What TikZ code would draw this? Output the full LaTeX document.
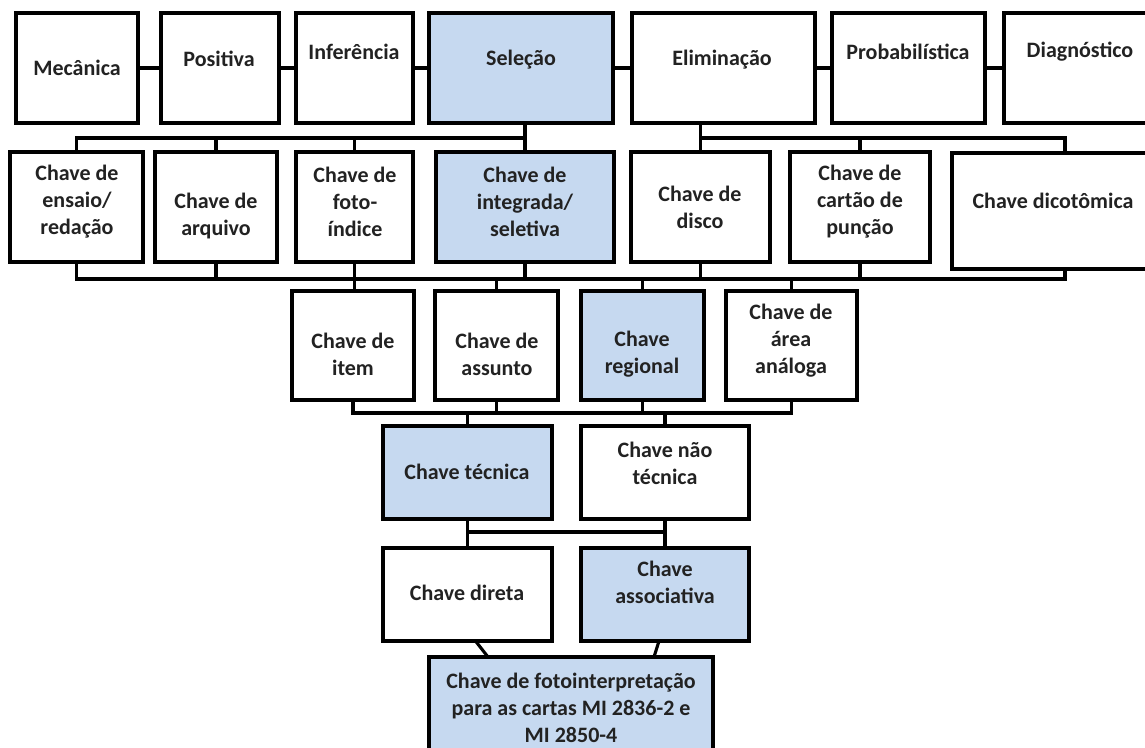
\documentclass[tikz,border=0pt]{standalone}
\usepackage{fontspec}
\setmainfont{Carlito}
\usetikzlibrary{calc}
\definecolor{keyblue}{RGB}{198,217,240}
\definecolor{ink}{RGB}{34,34,34}
% box: style, name, left x, top y, width, height
\newcommand\kbox[6]{\node[#1, anchor=north west, minimum width=#5pt, minimum height=#6pt] (#2) at (#3,#4) {};}
\begin{document}
\begin{tikzpicture}[x=1pt,y=-1pt,
  box/.style={draw=black, line width=3.1pt, fill=white, rectangle, inner sep=0pt, outer sep=0pt},
  hl/.style={box, fill=keyblue},
  lbl/.style={font=\bfseries\fontsize{22}{27}\selectfont, text=ink, align=center, inner sep=0pt},
  link/.style={draw=black, line width=3.1pt}]
\useasboundingbox (0,0) rectangle (1145,747);
\fill[white] (0,0) rectangle (1145,747);
\clip (0,0) rectangle (1145,747);

% first level: principles
\kbox{box}{mec}{16}{13}{122}{110}
\kbox{box}{pos}{161}{13}{118}{110}
\kbox{box}{inf}{296}{13}{117}{110}
\kbox{hl}{sel}{429}{13}{184}{110}
\kbox{box}{eli}{632}{13}{183}{110}
\kbox{box}{pro}{832}{13}{153}{110}
\kbox{box}{dia}{1004}{13}{156}{110}

% second level: key formats
\kbox{box}{ens}{10}{152}{133}{110}
\kbox{box}{arq}{155}{152}{122}{110}
\kbox{box}{fot}{296}{152}{117}{110}
\kbox{hl}{int}{436}{152}{178}{110}
\kbox{box}{dis}{631}{152}{139}{110}
\kbox{box}{car}{790}{152}{140}{110}
\kbox{box}{dic}{952}{153}{226}{116}

% third level: scope
\kbox{box}{ite}{292}{291}{122}{109}
\kbox{box}{ass}{435}{291}{123}{109}
\kbox{hl}{reg}{581}{291}{123}{109}
\kbox{box}{ana}{726}{291}{131}{109}

% fourth and fifth levels
\kbox{hl}{tec}{383}{426}{169}{93}
\kbox{box}{nao}{581}{426}{168}{93}
\kbox{box}{dir}{383}{548}{169}{93}
\kbox{hl}{aso}{581}{548}{168}{93}

% resulting key
\kbox{hl}{fin}{429}{657}{284}{123}

% bus levels
\coordinate (busA) at (0,138);
\coordinate (busB) at (0,279);
\coordinate (busC) at (0,413);
\coordinate (busD) at (0,532);

% links along the first level
\draw[link] (mec) -- (pos);
\draw[link] (pos) -- (inf);
\draw[link] (inf) -- (sel);
\draw[link] (sel) -- (eli);
\draw[link] (eli) -- (pro);
\draw[link] (pro) -- (dia);

% upper buses
\draw[link] (int.north |- sel.south) -- (int.north);
\draw[link] (ens.north) |- (int.north |- busA);
\draw[link] (arq.north) -- (arq.north |- busA);
\draw[link] (fot.north) -- (fot.north |- busA);
\draw[link] (dis.north |- eli.south) -- (dis.north);
\draw[link] (dis.north |- busA) -| (dic.north);
\draw[link] (car.north) -- (car.north |- busA);

% bus below the second level
\draw[link] (ens.south) |- (dic.south |- busB) -- (dic.south);
\draw[link] (arq.south) -- (arq.south |- busB);
\draw[link] (fot.south) -- (fot.south |- ite.north);
\draw[link] (int.south) -- (int.south |- busB);
\draw[link] (dis.south) -- (dis.south |- busB);
\draw[link] (car.south) -- (car.south |- busB);
\draw[link] (ass.north) -- (ass.north |- busB);
\draw[link] (reg.north) -- (reg.north |- busB);
\draw[link] (ana.north) -- (ana.north |- busB);

% bus below the third level
\draw[link] (ite.south) |- (ana.south |- busC) -- (ana.south);
\draw[link] (ass.south) -- (ass.south |- busC);
\draw[link] (reg.south) -- (reg.south |- busC);
\draw[link] (tec.north) -- (tec.north |- busC);
\draw[link] (nao.north) -- (nao.north |- busC);

% fourth to fifth level
\draw[link] (tec.south) -- (dir.north);
\draw[link] (nao.south) -- (aso.north);
\draw[link] (tec.south |- busD) -- (nao.south |- busD);

% converging links
\draw[link] ($(dir.south)+(8,0)$) -- ($(fin.north)+(-83,0)$);
\draw[link] ($(aso.south)+(-6,0)$) -- ($(fin.north)+(83,0)$);

% labels
\node[lbl] (mec-t) at (77,68) {Mecânica};
\node[lbl] (pos-t) at (219,59) {Positiva};
\node[lbl] (inf-t) at (354,52) {Inferência};
\node[lbl] (sel-t) at (521,60) {Seleção};
\node[lbl] (eli-t) at (722,60) {Eliminação};
\node[lbl] (pro-t) at (908,52) {Probabilística};
\node[lbl] (dia-t) at (1080,52) {Diagnóstico};

\node[lbl] (ens-t) at (77,202) {Chave de\\ensaio/\\redação};
\node[lbl] (arq-t) at (216,216) {Chave de\\arquivo};
\node[lbl] (fot-t) at (355,202) {Chave de\\foto-\\índice};
\node[lbl] (int-t) at (525,202) {Chave de\\integrada/\\seletiva};
\node[lbl] (dis-t) at (700,207) {Chave de\\disco};
\node[lbl] (car-t) at (860,202) {Chave de\\cartão de\\punção};
\node[lbl] (dic-t) at (1053,201) {Chave dicotômica};

\node[lbl] (ite-t) at (353,354) {Chave de\\item};
\node[lbl] (ass-t) at (497,354) {Chave de\\assunto};
\node[lbl] (reg-t) at (642,354) {Chave\\regional};
\node[lbl] (ana-t) at (791,341) {Chave de\\área\\análoga};

\node[lbl] (tec-t) at (467,472) {Chave técnica};
\node[lbl] (nao-t) at (665,463) {Chave não\\técnica};
\node[lbl] (dir-t) at (467,593) {Chave direta};
\node[lbl] (aso-t) at (665,582) {Chave\\associativa};

\node[lbl] (fin-t) at (571,708) {Chave de fotointerpretação\\para as cartas MI 2836-2 e\\MI 2850-4};
\end{tikzpicture}
\end{document}
